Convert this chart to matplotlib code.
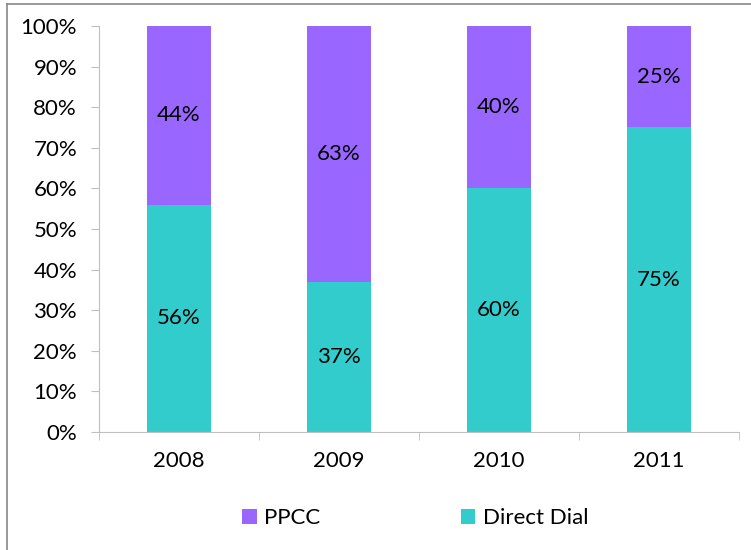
import matplotlib
matplotlib.use("Agg")
import matplotlib.pyplot as plt
from matplotlib.lines import Line2D

years = ["2008", "2009", "2010", "2011"]
direct_dial = [56, 37, 60, 75]
ppcc = [44, 63, 40, 25]

teal = "#33CCCC"
purple = "#9966FF"

plt.rcParams["font.family"] = ["Lato", "DejaVu Sans"]
fs = 16

fig = plt.figure(figsize=(7.51, 5.5), dpi=100)
ax = fig.add_axes([99 / 751, 1 - 432 / 550, 640 / 751, 406 / 550])

x = range(len(years))
ax.bar(x, direct_dial, width=0.4, color=teal, label="Direct Dial")
ax.bar(x, ppcc, width=0.4, bottom=direct_dial, color=purple, label="PPCC")

for i in x:
    ax.text(i, direct_dial[i] / 2, f"{direct_dial[i]}%", ha="center", va="center", fontsize=fs)
    ax.text(i, direct_dial[i] + ppcc[i] / 2, f"{ppcc[i]}%", ha="center", va="center", fontsize=fs)

ax.set_xlim(-0.5, len(years) - 0.5)
ax.set_ylim(0, 100)
ax.set_yticks(range(0, 101, 10))
ax.set_yticklabels([f"{v}%" for v in range(0, 101, 10)], fontsize=fs)
ax.set_xticks(list(x))
ax.set_xticklabels(years, fontsize=fs)
ax.set_xticks([i - 0.5 for i in range(len(years) + 1)], minor=True)
ax.tick_params(axis="x", which="major", length=0, pad=14)
ax.tick_params(axis="x", which="minor", length=5.8, color="#BFBFBF")
ax.tick_params(axis="y", length=5.8, color="#BFBFBF", pad=10)

for s in ["top", "right"]:
    ax.spines[s].set_visible(False)
for s in ["left", "bottom"]:
    ax.spines[s].set_color("#BFBFBF")

handles, labels = ax.get_legend_handles_labels()
fig.legend(handles[::-1], labels[::-1], loc="center", bbox_to_anchor=(0.553, 1 - 518 / 550),
           ncol=2, frameon=False, fontsize=fs, handlelength=0.65, handleheight=0.65,
           columnspacing=6.3, handletextpad=0.35)

bx = 7 / 751
by = 1 - 4 / 550
fig.add_artist(Line2D([bx, 1], [by, by], color="#888888", lw=1.2, transform=fig.transFigure))
fig.add_artist(Line2D([bx, bx], [0, by], color="#888888", lw=1.2, transform=fig.transFigure))

fig.savefig("out.png", dpi=100)
